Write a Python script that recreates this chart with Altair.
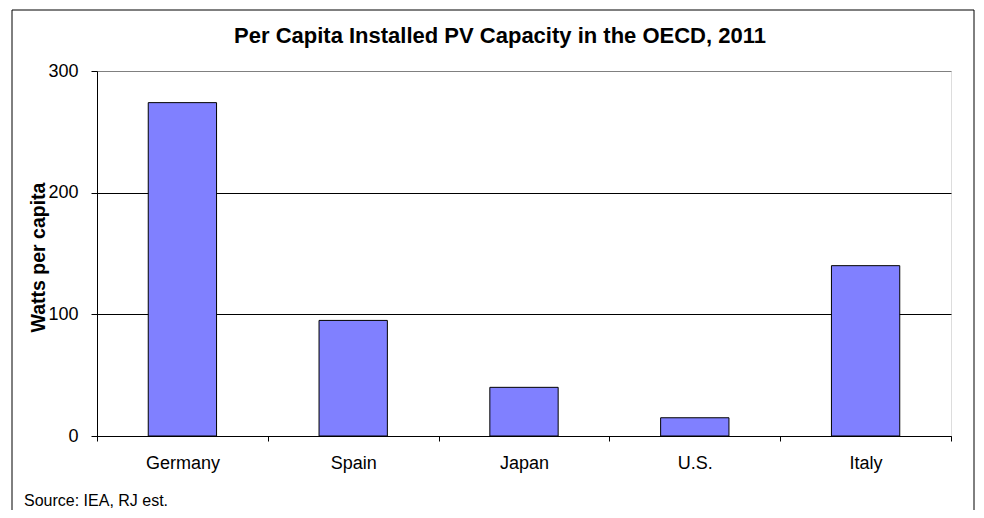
import altair as alt
import pandas as pd

# ---- data ----
countries = ["Germany", "Spain", "Japan", "U.S.", "Italy"]
watts_per_capita = [274, 95, 40, 15, 140]
y_ticks = [0, 100, 200, 300]
title_text = "Per Capita Installed PV Capacity in the OECD, 2011"
y_title = "Watts per capita"
source_text = "Source: IEA, RJ est."

df = pd.DataFrame({"country": countries, "watts": watts_per_capita})
one = pd.DataFrame({"d": [0]})

FONT = "Liberation Sans"

bars = alt.Chart(df).mark_bar(
    color="#8080FF", stroke="black", strokeWidth=1,
    width=alt.RelativeBandSize(0.4)
).encode(
    x=alt.X(
        "country:N", sort=countries,
        scale=alt.Scale(paddingInner=0, paddingOuter=0),
        axis=alt.Axis(
            title=None, labelAngle=0, labelFontSize=18, labelColor="black",
            labelFont=FONT, tickBand="extent", tickSize=5, tickColor="black",
            domainColor="black", labelPadding=13, grid=False,
        ),
    ),
    y=alt.Y(
        "watts:Q",
        scale=alt.Scale(domain=[0, 300], nice=False),
        axis=alt.Axis(
            values=y_ticks, title=y_title, titleFontSize=19.5, titleFont=FONT,
            titleFontWeight="bold", titleColor="black", titleX=-49, titleY=186,
            titleAngle=270, titleBaseline="bottom", titleAlign="center",
            labelFontSize=18, labelFont=FONT, labelColor="black", labelPadding=13,
            tickSize=6, tickColor="black", domainColor="black", grid=True,
            gridColor={"condition": {"test": "datum.value >= 300", "value": "#808080"}, "value": "black"},
            gridOpacity=1,
        ),
    ),
)

border = alt.Chart(one).mark_rect(
    fill="white", fillOpacity=0, stroke="black", strokeWidth=1
).encode(
    x=alt.value(-85), x2=alt.value(877), y=alt.value(-61), y2=alt.value(480)
)

title = alt.Chart(one).mark_text(
    text=title_text, align="center", baseline="alphabetic", fontSize=22,
    font=FONT, fontWeight="bold", color="black"
).encode(x=alt.value(403), y=alt.value(-28))

source = alt.Chart(one).mark_text(
    text=source_text, align="left", baseline="alphabetic", fontSize=16,
    font=FONT, color="black"
).encode(x=alt.value(-73), y=alt.value(435))

chart = alt.layer(border, title, bars, source).properties(
    width=854,
    height=365,
    autosize=alt.AutoSizeParams(type="none"),
    padding={"left": 89, "top": 63, "right": 25, "bottom": 74},
).configure_view(stroke="#808080", strokeWidth=1).configure(background="white")

chart.save("out.html", embed_options={"renderer": "svg", "actions": False})
